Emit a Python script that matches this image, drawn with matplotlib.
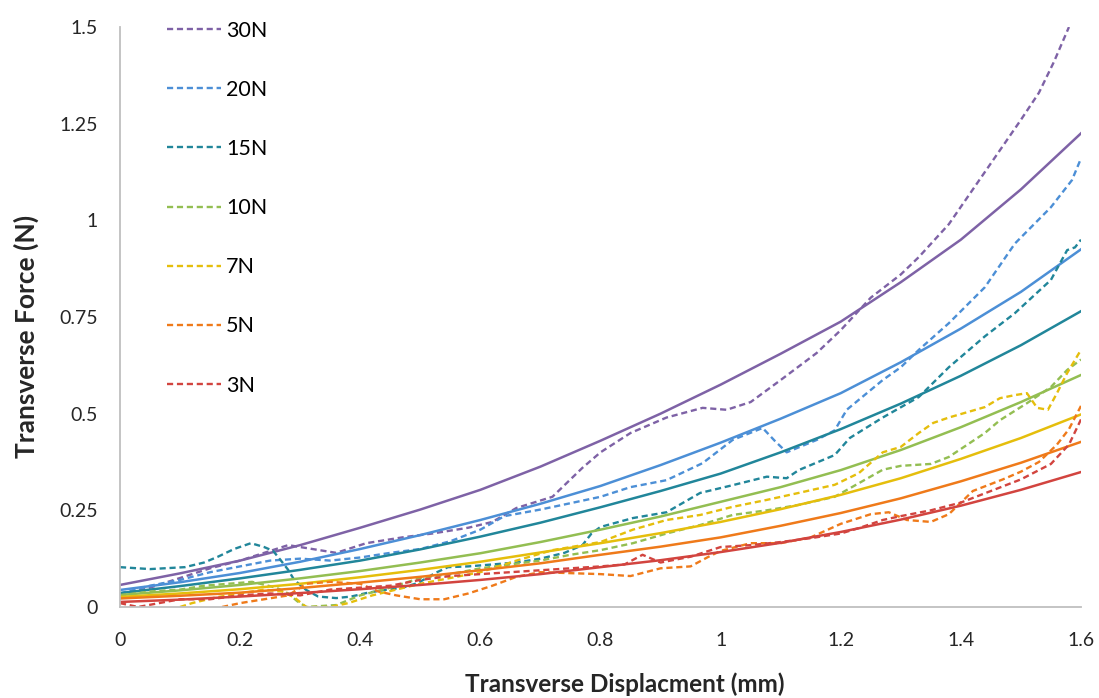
import matplotlib.pyplot as plt

plt.rcParams['font.family'] = ['Lato', 'DejaVu Sans']

# fitted curves, read every 0.1 mm
FIT_X = [0, 0.1, 0.2, 0.3, 0.4, 0.5, 0.6, 0.7, 0.8, 0.9, 1.0, 1.1, 1.2, 1.3, 1.4, 1.5, 1.6]
fit_30 = [0.057, 0.087, 0.12, 0.16, 0.205, 0.252, 0.303, 0.363, 0.43, 0.50, 0.575, 0.655, 0.738, 0.84, 0.95, 1.08, 1.225]
fit_20 = [0.044, 0.064, 0.088, 0.117, 0.15, 0.186, 0.225, 0.267, 0.313, 0.367, 0.425, 0.487, 0.553, 0.633, 0.72, 0.815, 0.925]
fit_15 = [0.036, 0.054, 0.074, 0.096, 0.12, 0.149, 0.182, 0.218, 0.258, 0.30, 0.345, 0.40, 0.46, 0.526, 0.598, 0.677, 0.765]
fit_10 = [0.031, 0.043, 0.057, 0.074, 0.093, 0.115, 0.139, 0.168, 0.20, 0.234, 0.272, 0.31, 0.354, 0.406, 0.465, 0.53, 0.60]
fit_7 = [0.026, 0.035, 0.046, 0.06, 0.077, 0.096, 0.117, 0.141, 0.165, 0.191, 0.22, 0.253, 0.29, 0.333, 0.383, 0.437, 0.498]
fit_5 = [0.022, 0.029, 0.037, 0.049, 0.063, 0.078, 0.095, 0.113, 0.135, 0.156, 0.18, 0.21, 0.243, 0.281, 0.325, 0.373, 0.427]
fit_3 = [0.013, 0.019, 0.027, 0.036, 0.046, 0.057, 0.07, 0.085, 0.103, 0.121, 0.142, 0.166, 0.194, 0.226, 0.262, 0.303, 0.349]

# measured curves
d30_x = [0, 0.05, 0.1, 0.15, 0.2, 0.25, 0.28, 0.32, 0.36, 0.41, 0.47, 0.52, 0.58, 0.62, 0.66, 0.72, 0.77, 0.8,
         0.85, 0.91, 0.97, 1.01, 1.05, 1.1, 1.16, 1.2, 1.25, 1.3, 1.33, 1.38, 1.42, 1.46, 1.5, 1.53, 1.555, 1.58]
d30_y = [0.03, 0.05, 0.075, 0.10, 0.12, 0.145, 0.16, 0.15, 0.14, 0.165, 0.18, 0.19, 0.205, 0.22, 0.256, 0.285, 0.36, 0.40,
         0.45, 0.49, 0.515, 0.51, 0.53, 0.587, 0.657, 0.716, 0.80, 0.86, 0.905, 0.99, 1.08, 1.17, 1.26, 1.33, 1.41, 1.50]

d20_x = [0, 0.05, 0.1, 0.15, 0.2, 0.25, 0.3, 0.35, 0.4, 0.45, 0.5, 0.55, 0.6, 0.64, 0.7, 0.77, 0.8, 0.85, 0.91, 0.97,
         1.02, 1.07, 1.09, 1.11, 1.16, 1.19, 1.21, 1.27, 1.3, 1.33, 1.38, 1.44, 1.49, 1.55, 1.585, 1.6]
d20_y = [0.035, 0.055, 0.07, 0.09, 0.105, 0.12, 0.125, 0.12, 0.128, 0.14, 0.15, 0.17, 0.2, 0.235, 0.252, 0.275, 0.285,
         0.31, 0.328, 0.372, 0.432, 0.463, 0.43, 0.40, 0.432, 0.457, 0.51, 0.587, 0.62, 0.665, 0.734, 0.827, 0.94, 1.034,
         1.104, 1.16]

d15_x = [0, 0.05, 0.108, 0.14, 0.163, 0.19, 0.218, 0.24, 0.255, 0.268, 0.28, 0.29, 0.31, 0.33, 0.36, 0.385, 0.41, 0.44,
         0.47, 0.496, 0.525, 0.546, 0.58, 0.62, 0.66, 0.7, 0.74, 0.77, 0.785, 0.8, 0.854, 0.91, 0.966, 1.02, 1.077, 1.11,
         1.13, 1.19, 1.215, 1.27, 1.33, 1.38, 1.44, 1.49, 1.55, 1.577, 1.59, 1.6]
d15_y = [0.103, 0.098, 0.103, 0.115, 0.13, 0.15, 0.165, 0.155, 0.145, 0.12, 0.096, 0.07, 0.044, 0.027, 0.023, 0.027,
         0.036, 0.044, 0.05, 0.062, 0.088, 0.103, 0.105, 0.11, 0.115, 0.125, 0.14, 0.16, 0.19, 0.207, 0.23, 0.245, 0.295,
         0.315, 0.337, 0.333, 0.354, 0.393, 0.437, 0.49, 0.543, 0.62, 0.70, 0.76, 0.846, 0.923, 0.93, 0.95]

d10_x = [0, 0.05, 0.1, 0.14, 0.18, 0.22, 0.26, 0.28, 0.295, 0.31, 0.36, 0.4, 0.45, 0.5, 0.55, 0.6, 0.65, 0.7, 0.75, 0.8,
         0.854, 0.91, 0.966, 1.02, 1.077, 1.13, 1.19, 1.23, 1.27, 1.3, 1.35, 1.38, 1.44, 1.465, 1.51, 1.55, 1.577, 1.6]
d10_y = [0.03, 0.04, 0.045, 0.055, 0.06, 0.065, 0.05, 0.035, 0.015, 0.0, 0.005, 0.03, 0.05, 0.075, 0.085, 0.1, 0.11,
         0.12, 0.135, 0.147, 0.165, 0.19, 0.212, 0.238, 0.25, 0.264, 0.285, 0.32, 0.355, 0.365, 0.37, 0.388, 0.45, 0.483,
         0.527, 0.569, 0.613, 0.64]

d7_x = [0.1, 0.12, 0.16, 0.2, 0.24, 0.27, 0.29, 0.31, 0.35, 0.38, 0.42, 0.46, 0.5, 0.55, 0.6, 0.66, 0.72, 0.77, 0.8,
        0.854, 0.91, 0.966, 1.02, 1.077, 1.13, 1.19, 1.23, 1.27, 1.3, 1.33, 1.354, 1.38, 1.44, 1.465, 1.49, 1.51, 1.527,
        1.545, 1.56, 1.577, 1.6]
d7_y = [0.0, 0.01, 0.025, 0.035, 0.045, 0.04, 0.025, 0.0, 0.0, 0.01, 0.03, 0.045, 0.06, 0.075, 0.09, 0.12, 0.147, 0.16,
        0.168, 0.2, 0.225, 0.238, 0.259, 0.277, 0.295, 0.316, 0.346, 0.40, 0.414, 0.45, 0.476, 0.49, 0.517, 0.54, 0.548,
        0.553, 0.515, 0.51, 0.553, 0.605, 0.665]

d5_x = [0.17, 0.2, 0.24, 0.28, 0.31, 0.35, 0.4, 0.43, 0.46, 0.5, 0.54, 0.58, 0.62, 0.66, 0.7, 0.74, 0.8, 0.85, 0.9, 0.95,
        0.98, 1.0, 1.05, 1.1, 1.15, 1.2, 1.25, 1.28, 1.31, 1.35, 1.38, 1.42, 1.47, 1.5, 1.53, 1.56, 1.58, 1.6]
d5_y = [0.0, 0.01, 0.02, 0.03, 0.06, 0.065, 0.06, 0.04, 0.03, 0.02, 0.02, 0.035, 0.055, 0.078, 0.09, 0.088, 0.085, 0.08,
        0.10, 0.105, 0.13, 0.145, 0.165, 0.165, 0.18, 0.215, 0.24, 0.245, 0.225, 0.22, 0.24, 0.30, 0.33, 0.35, 0.375,
        0.42, 0.46, 0.52]

d3_x = [0, 0.03, 0.1, 0.15, 0.2, 0.25, 0.3, 0.35, 0.4, 0.45, 0.5, 0.55, 0.6, 0.65, 0.7, 0.75, 0.8, 0.84, 0.87, 0.9,
        0.95, 1.0, 1.05, 1.1, 1.15, 1.2, 1.23, 1.27, 1.3, 1.35, 1.4, 1.45, 1.5, 1.55, 1.58, 1.6]
d3_y = [0.01, 0.0, 0.02, 0.02, 0.03, 0.035, 0.03, 0.045, 0.05, 0.055, 0.07, 0.08, 0.085, 0.09, 0.095, 0.1, 0.105, 0.11,
        0.135, 0.115, 0.13, 0.155, 0.16, 0.168, 0.178, 0.19, 0.204, 0.225, 0.235, 0.25, 0.27, 0.30, 0.33, 0.37, 0.42,
        0.485]

labels = ['30N', '20N', '15N', '10N', '7N', '5N', '3N']
colors = ['#7E62A6', '#4C8FD6', '#21869A', '#93BE52', '#E5BE0C', '#EF7A1A', '#D2443F']
fits = [fit_30, fit_20, fit_15, fit_10, fit_7, fit_5, fit_3]
meas = [(d30_x, d30_y), (d20_x, d20_y), (d15_x, d15_y), (d10_x, d10_y),
        (d7_x, d7_y), (d5_x, d5_y), (d3_x, d3_y)]

fig, ax = plt.subplots(figsize=(10.99, 6.98), dpi=100)
fig.subplots_adjust(left=0.1092, right=0.9836, bottom=0.1304, top=0.9613)

for lab, col, fit, (mx, my) in zip(labels, colors, fits, meas):
    ax.plot(FIT_X, fit, color=col, lw=1.8)
    ax.plot(mx, my, color=col, lw=1.7, dashes=(2.6, 1.6), label=lab)

ax.set_xlim(0, 1.6)
ax.set_ylim(0, 1.5)
ax.set_xticks([0, 0.2, 0.4, 0.6, 0.8, 1.0, 1.2, 1.4, 1.6])
ax.set_xticklabels(['0', '0.2', '0.4', '0.6', '0.8', '1', '1.2', '1.4', '1.6'])
ax.set_yticks([0, 0.25, 0.5, 0.75, 1.0, 1.25, 1.5])
ax.set_yticklabels(['0', '0.25', '0.5', '0.75', '1', '1.25', '1.5'])

for side in ['top', 'right']:
    ax.spines[side].set_visible(False)
for side in ['left', 'bottom']:
    ax.spines[side].set_color('#BFBFBF')
    ax.spines[side].set_linewidth(1.3)

ax.tick_params(axis='both', length=0, labelsize=14, labelcolor='#262626')
ax.tick_params(axis='x', pad=18)
ax.tick_params(axis='y', pad=16)

ax.set_xlabel('Transverse Displacment (mm)', fontsize=17.5, fontweight='bold', color='#262626')
ax.set_ylabel('Transverse Force (N)', fontsize=19, fontweight='bold', color='#262626')
ax.xaxis.set_label_coords(0.5255, -0.112)
ax.yaxis.set_label_coords(-0.084, 0.466)

ax.legend(loc='upper left', bbox_to_anchor=(0.152, 0.9705), bbox_transform=fig.transFigure,
          frameon=False, fontsize=15.5, handlelength=2.5, handletextpad=0.23, labelspacing=1.82,
          borderpad=0, borderaxespad=0)

fig.savefig('out.png', dpi=100)
